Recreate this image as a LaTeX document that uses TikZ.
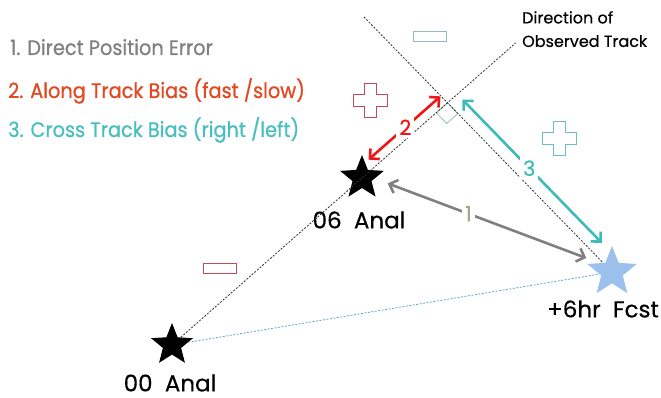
\documentclass[tikz,border=0pt]{standalone}
\usepackage{fontspec}
\setmainfont{Poppins}[FakeBold=0.4]
\newfontfamily\legendfont{Poppins}[FakeBold=0.8,FakeStretch=0.92]
\usetikzlibrary{arrows.meta,calc,shapes.geometric}
\definecolor{legendgray}{RGB}{128,128,130}
\definecolor{alongred}{RGB}{226,72,34}
\definecolor{crossteal}{RGB}{72,190,190}
\definecolor{arrgray}{RGB}{128,128,128}
\definecolor{arrred}{RGB}{238,22,22}
\definecolor{arrteal}{RGB}{62,186,186}
\definecolor{numgray}{RGB}{168,164,140}
\definecolor{fcstblue}{RGB}{156,192,236}
\definecolor{markblue}{RGB}{150,184,196}
\definecolor{signred}{RGB}{200,72,84}
\definecolor{signteal}{RGB}{108,190,192}
\definecolor{linkblue}{RGB}{96,168,192}
\tikzset{anal/.style={star,star points=5,star point ratio=2.3,inner sep=0pt,fill=black},
  guide/.style={draw=black!80,dash pattern=on 2pt off 1.5pt,line width=0.8pt},
  errarr/.style={{Straight Barb[length=7pt,width=14pt]}-{Straight Barb[length=7pt,width=14pt]},line width=2.6pt},
  num/.style={fill=white,inner sep=3pt,font=\fontsize{21}{21}\selectfont},
  tag/.style={font=\fontsize{23}{23}\selectfont,inner sep=0pt},
  legend/.style={anchor=base west,inner sep=0pt,font=\legendfont\fontsize{21}{21}\selectfont},
  sign/.style={line width=0.8pt}}

\begin{document}
\begin{tikzpicture}[x=1pt,y=-1pt]
\useasboundingbox (0,0) rectangle (661,398);
% the three positions
\node[anal,minimum size=44pt] (a00) at (172,345) {};
\node[anal,minimum size=46pt] (a06) at (362,178) {};
\node[anal,fill=fcstblue,minimum size=52pt] (fcst) at (612,272) {};
\node[tag] (a00lab) at (170,383) {00\ \ Anal};
\node[tag] (a06lab) at (359,220) {06\ \ Anal};
\node[tag] (fcstlab) at (603,309) {+6hr\ \ Fcst};
% track and cross-track lines
\coordinate (X) at ($(a00.center)!1.45!(a06.center)$);
\coordinate (trk) at ($(a00.center)!1.809!(a06.center)$);
\coordinate (prp) at ($(fcst.center)!1.508!(X)$);
\coordinate (sqL) at ($(X)!15pt!(a00.center)$);
\coordinate (sqR) at ($(X)!15pt!(fcst.center)$);
\draw[draw=markblue,line width=0.8pt] (X) -- (sqL) -- ($(sqL)+(sqR)-(X)$) -- (sqR) -- cycle;
\draw[guide] (a00) -- (trk);
\draw[guide] (prp) -- (fcst);
\draw[guide,draw=linkblue] (a00) -- (fcst);
\node[anchor=north west,align=left,inner sep=0pt,font=\fontsize{16}{23.5}\selectfont] (dirlab) at (522,11) {Direction of\\Observed Track};
% error arrows
\coordinate (e1s) at ($(a06.center)!4pt!90:(fcst.center)$);
\coordinate (e1e) at ($(fcst.center)!4pt!-90:(a06.center)$);
\draw[errarr,draw=arrgray,shorten <=26pt,shorten >=29pt] (e1s) -- node[num,pos=0.42,text=numgray] {1} (e1e);
\coordinate (e2s) at ($(a06.center)!9.5pt!90:(X)$);
\coordinate (e2e) at ($(X)!9.5pt!-90:(a06.center)$);
\draw[errarr,draw=arrred,shorten <=17pt,shorten >=1pt] (e2s) -- node[num,pos=0.58,text=arrred] {2} (e2e);
\coordinate (e3s) at ($(X)!13pt!90:(fcst.center)$);
\coordinate (e3e) at ($(fcst.center)!13pt!-90:(X)$);
\draw[errarr,draw=arrteal,shorten <=8pt,shorten >=28pt] (e3s) -- node[num,pos=0.44,text=arrteal] {3} (e3e);
% plus and minus signs
\draw[sign,draw=markblue] (413,31) rectangle (446,41);
\draw[sign,draw=signred] (203,263) rectangle (236,273);
\foreach \px/\py/\col in {370/100/signred,559/138/signteal}
  \draw[sign,draw=\col] (\px-6,\py-17) -- (\px+6,\py-17) -- (\px+6,\py-6) -- (\px+17,\py-6) -- (\px+17,\py+6) -- (\px+6,\py+6)
    -- (\px+6,\py+17) -- (\px-6,\py+17) -- (\px-6,\py+6) -- (\px-17,\py+6) -- (\px-17,\py-6) -- (\px-6,\py-6) -- cycle;
% legend
\node[legend,text=legendgray] (leg1) at (10,55) {1. Direct Position Error};
\node[legend,text=alongred] (leg2) at (8,98) {2. Along Track Bias (fast /slow)};
\node[legend,text=crossteal] (leg3) at (8,137) {3. Cross Track Bias (right /left)};
\end{tikzpicture}
\end{document}
